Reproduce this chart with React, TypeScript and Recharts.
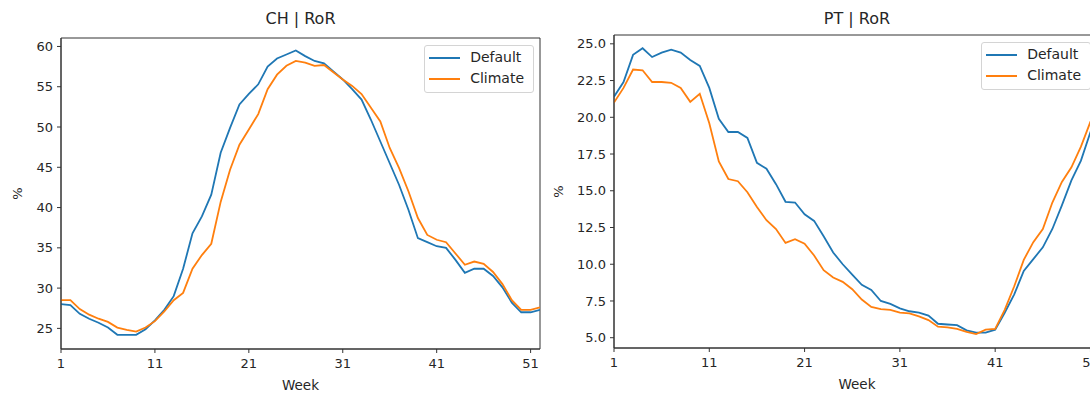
import React from "react";
import {
  LineChart,
  Line,
  XAxis,
  YAxis,
  Legend,
  ReferenceArea,
} from "recharts";

const FONT = '"DejaVu Sans", sans-serif';
const TEXT = "#262626";
const SPINE = "#333";

const weeks = Array.from({ length: 52 }, (_, i) => i + 1);

const chDefault = [
  28.0, 27.9, 26.8, 26.2, 25.7, 25.1, 24.2, 24.2, 24.2, 24.9,
  26.0, 27.3, 29.0, 32.4, 36.8, 38.9, 41.6, 46.8, 49.9, 52.8,
  54.1, 55.3, 57.5, 58.5, 59.0, 59.5, 58.8, 58.2, 57.9, 56.9,
  55.9, 54.7, 53.4, 50.9, 48.2, 45.5, 42.8, 39.7, 36.2, 35.7,
  35.2, 35.0, 33.5, 31.9, 32.4, 32.4, 31.5, 30.1, 28.2, 27.0,
  27.0, 27.3,
];

const chClimate = [
  28.5, 28.5, 27.4, 26.7, 26.2, 25.8, 25.1, 24.8, 24.6, 25.1,
  25.9, 27.1, 28.5, 29.4, 32.4, 34.1, 35.5, 40.7, 44.7, 47.8,
  49.7, 51.6, 54.7, 56.5, 57.6, 58.2, 58.0, 57.6, 57.7, 56.8,
  55.9, 55.1, 54.1, 52.4, 50.7, 47.4, 44.9, 42.0, 38.7, 36.6,
  36.0, 35.7, 34.3, 32.9, 33.3, 33.0, 32.0, 30.5, 28.5, 27.3,
  27.3, 27.6,
];

const ptDefault = [
  21.4, 22.4, 24.25, 24.7, 24.1, 24.4, 24.6, 24.4, 23.9, 23.5,
  22.0, 19.9, 19.0, 19.0, 18.6, 16.9, 16.5, 15.45, 14.25, 14.2,
  13.4, 12.95, 11.9, 10.8, 10.0, 9.3, 8.6, 8.25, 7.5, 7.3,
  7.0, 6.8, 6.7, 6.5, 5.95, 5.9, 5.85, 5.5, 5.35, 5.35,
  5.55, 6.7, 7.95, 9.55, 10.35, 11.15, 12.4, 14.0, 15.7, 17.05,
  19.0, 20.3,
];

const ptClimate = [
  21.0, 22.0, 23.25, 23.2, 22.4, 22.4, 22.35, 22.0, 21.05, 21.6,
  19.6, 17.0, 15.8, 15.65, 14.9, 13.9, 13.0, 12.4, 11.45, 11.7,
  11.4, 10.6, 9.6, 9.1, 8.8, 8.3, 7.6, 7.1, 6.95, 6.9,
  6.7, 6.65, 6.45, 6.2, 5.75, 5.7, 5.6, 5.4, 5.25, 5.55,
  5.6, 6.9, 8.5, 10.3, 11.5, 12.4, 14.2, 15.6, 16.6, 18.0,
  19.7, 21.0,
];

const seriesNames = ["Default", "Climate"];
const weekTicks = [1, 11, 21, 31, 41, 51];
const chTicks = [25, 30, 35, 40, 45, 50, 55, 60];
const ptTicks = [5, 7.5, 10, 12.5, 15, 17.5, 20, 22.5, 25];

const chData = weeks.map((w, i) => ({ week: w, def: chDefault[i], clim: chClimate[i] }));
const ptData = weeks.map((w, i) => ({ week: w, def: ptDefault[i], clim: ptClimate[i] }));

// legend box in the upper right corner, entries kept in series order
function LegendBox({ payload }: any) {
  const items = [...(payload || [])].sort(
    (a: any, b: any) => seriesNames.indexOf(a.value) - seriesNames.indexOf(b.value)
  );
  return (
    <div
      style={{
        border: "1px solid #d4d4d4",
        borderRadius: 3,
        background: "rgba(255,255,255,0.8)",
        padding: "1px 9px 3px 4px",
        fontFamily: FONT,
        fontSize: 14,
        color: TEXT,
      }}
    >
      {items.map((e: any) => (
        <div key={e.value} style={{ display: "flex", alignItems: "center", height: 21 }}>
          <svg width={31} height={4}>
            <line x1={0} x2={31} y1={2} y2={2} stroke={e.color} strokeWidth={2} />
          </svg>
          <span style={{ marginLeft: 10, lineHeight: "21px" }}>{e.value}</span>
        </div>
      ))}
    </div>
  );
}

type PanelProps = {
  title: string;
  data: any[];
  left: number;
  width: number;
  yAxisWidth: number;
  marginTop: number;
  marginRight: number;
  xAxisHeight: number;
  yDomain: [number, number];
  yTicks: number[];
  fmt: (v: number) => string;
  yLabelX: number;
  legendTop: number;
  legendRight: number;
};

function Panel(p: PanelProps) {
  const tickStyle = { fill: TEXT, fontSize: 13, fontFamily: FONT };
  const plotWidth = p.width - p.yAxisWidth - p.marginRight;
  return (
    <div style={{ position: "absolute", left: p.left, top: 0, width: p.width, height: 394 }}>
      <div
        style={{
          position: "absolute",
          top: 9,
          left: p.yAxisWidth,
          width: plotWidth,
          textAlign: "center",
          fontFamily: FONT,
          fontSize: 16,
          lineHeight: "20px",
          color: TEXT,
        }}
      >
        {p.title}
      </div>
      <LineChart
        width={p.width}
        height={394}
        data={p.data}
        margin={{ top: p.marginTop, right: p.marginRight, bottom: 0, left: 0 }}
      >
        <XAxis
          dataKey="week"
          type="number"
          domain={[1, 52]}
          ticks={weekTicks}
          allowDataOverflow
          height={p.xAxisHeight}
          stroke={SPINE}
          tickSize={4}
          tickMargin={6}
          tick={tickStyle}
          label={{
            content: ({ viewBox }: any) => (
              <text
                x={viewBox.x + viewBox.width / 2}
                y={viewBox.y + 41}
                textAnchor="middle"
                fill={TEXT}
                fontSize={13.5}
                fontFamily={FONT}
              >
                Week
              </text>
            ),
          }}
        />
        <YAxis
          type="number"
          domain={p.yDomain}
          ticks={p.yTicks}
          allowDataOverflow
          width={p.yAxisWidth}
          stroke={SPINE}
          tickSize={4}
          tickMargin={4}
          tick={tickStyle}
          tickFormatter={p.fmt}
          label={{
            content: ({ viewBox }: any) => {
              const cx = viewBox.x + p.yLabelX;
              const cy = viewBox.y + viewBox.height / 2;
              return (
                <text
                  x={cx}
                  y={cy}
                  transform={`rotate(-90 ${cx} ${cy})`}
                  textAnchor="middle"
                  dominantBaseline="central"
                  fill={TEXT}
                  fontSize={13}
                  fontFamily={FONT}
                >
                  %
                </text>
              );
            },
          }}
        />
        {/* full frame around the plot area */}
        <ReferenceArea
          x1={1}
          x2={52}
          y1={p.yDomain[0]}
          y2={p.yDomain[1]}
          fill="none"
          fillOpacity={0}
          stroke={SPINE}
          strokeWidth={1}
          ifOverflow="visible"
        />
        <Legend
          layout="vertical"
          align="center"
          verticalAlign="middle"
          wrapperStyle={{ top: p.legendTop, right: p.legendRight }}
          content={<LegendBox />}
        />
        <Line
          dataKey="def"
          name="Default"
          stroke="#1f77b4"
          strokeWidth={1.8}
          dot={false}
          type="linear"
          isAnimationActive={false}
        />
        <Line
          dataKey="clim"
          name="Climate"
          stroke="#ff7f0e"
          strokeWidth={1.8}
          dot={false}
          type="linear"
          isAnimationActive={false}
        />
      </LineChart>
    </div>
  );
}

export default function App() {
  return (
    <div
      style={{
        position: "absolute",
        left: 0,
        top: 0,
        width: 1090,
        height: 394,
        overflow: "hidden",
        background: "#fff",
      }}
    >
      <Panel
        title="CH | RoR"
        data={chData}
        left={0}
        width={560}
        yAxisWidth={61}
        marginTop={38}
        marginRight={20}
        xAxisHeight={45}
        yDomain={[22.44, 61.05]}
        yTicks={chTicks}
        fmt={(v) => String(v)}
        yLabelX={17}
        legendTop={45}
        legendRight={26}
      />
      <Panel
        title="PT | RoR"
        data={ptData}
        left={540}
        width={573}
        yAxisWidth={74}
        marginTop={35}
        marginRight={13}
        xAxisHeight={46}
        yDomain={[4.3, 25.6]}
        yTicks={ptTicks}
        fmt={(v) => v.toFixed(1)}
        yLabelX={18}
        legendTop={42}
        legendRight={22}
      />
    </div>
  );
}
